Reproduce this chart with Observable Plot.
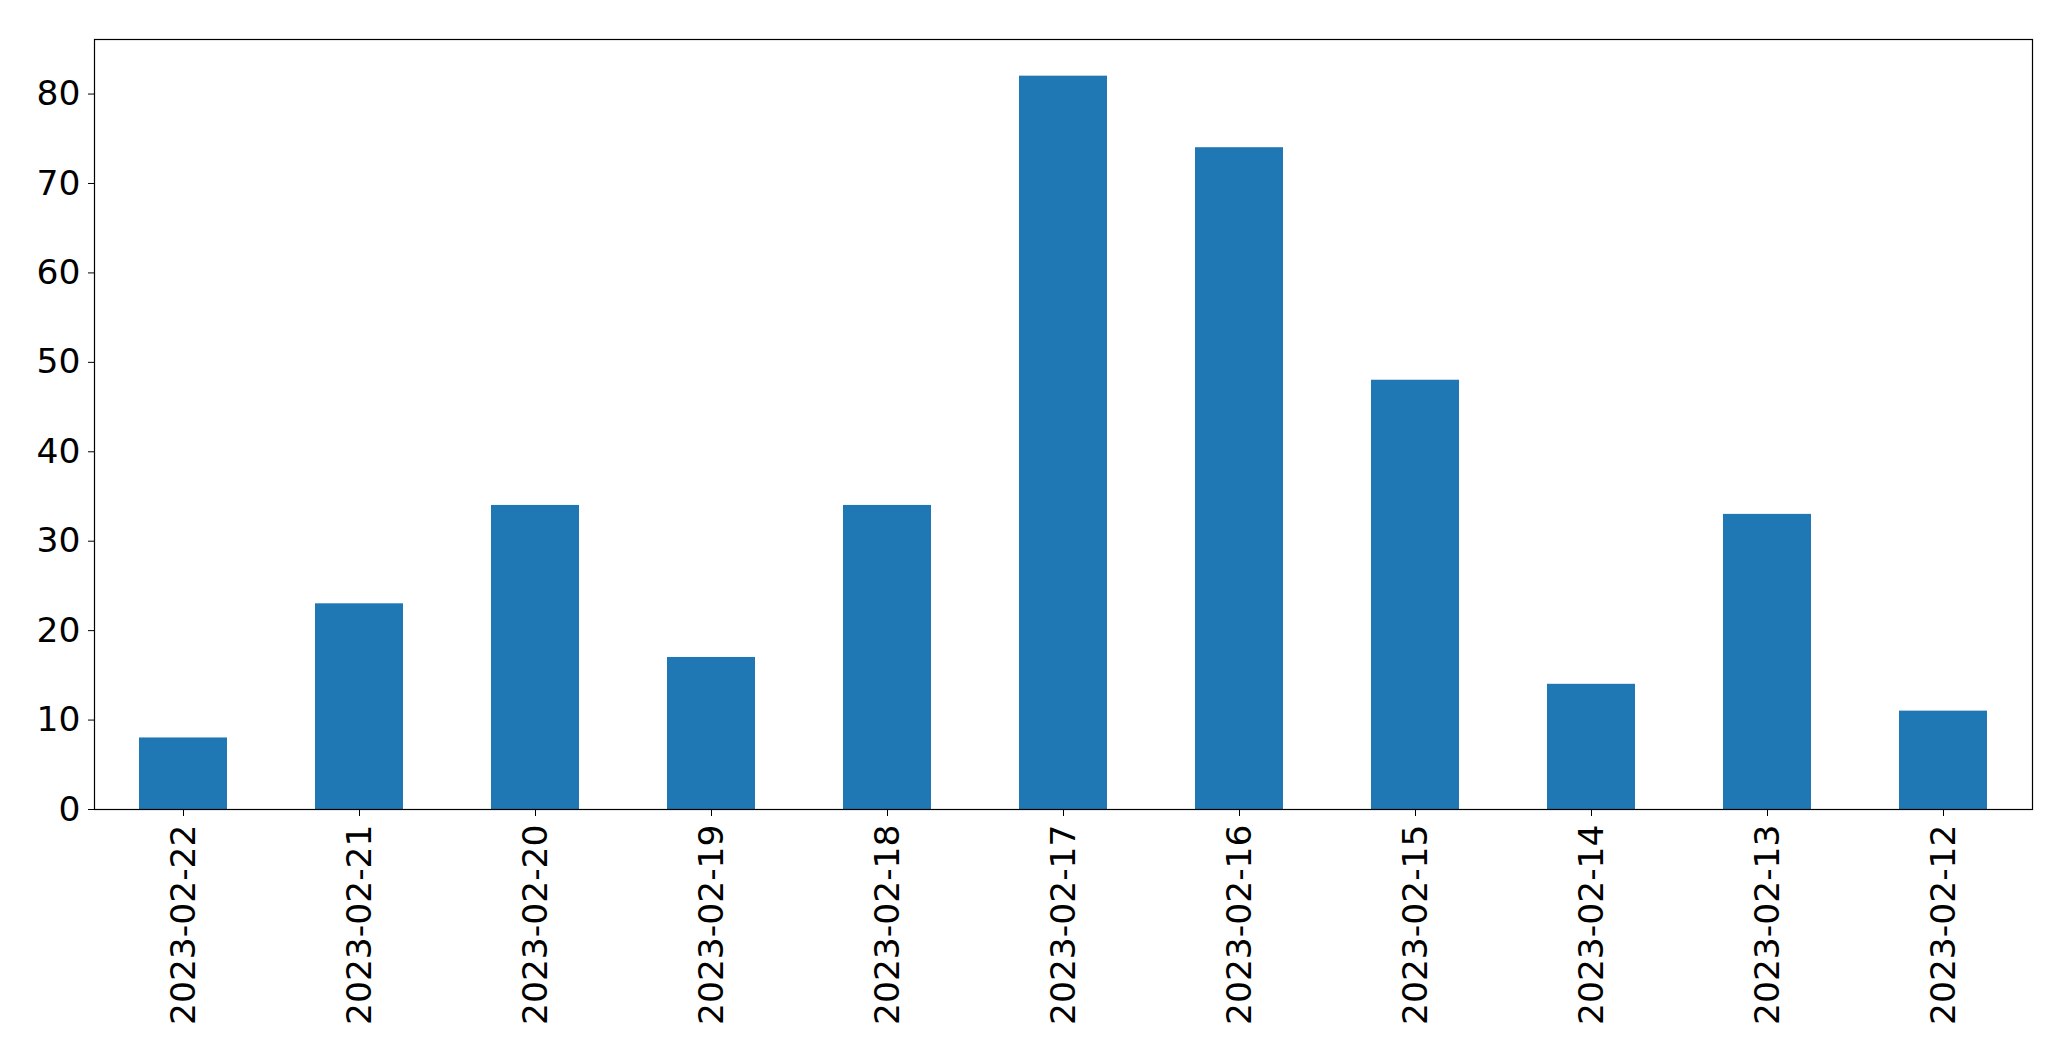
<!DOCTYPE html>
<html>
<head>
<meta charset="utf-8">
<script src="https://cdn.jsdelivr.net/npm/d3@7"></script>
<script src="https://cdn.jsdelivr.net/npm/@observablehq/plot@0.6"></script>
<style>
  html, body { margin: 0; padding: 0; background: #fff; overflow: hidden; }
  #chart { width: 2071px; height: 1061px; }
  #chart svg { display: block; }
</style>
</head>
<body>
<div id="chart"></div>
<script>
const dates = ["2023-02-22","2023-02-21","2023-02-20","2023-02-19","2023-02-18","2023-02-17","2023-02-16","2023-02-15","2023-02-14","2023-02-13","2023-02-12"];
const counts = [8, 23, 34, 17, 34, 82, 74, 48, 14, 33, 11];
const yTicks = [0, 10, 20, 30, 40, 50, 60, 70, 80];

const data = dates.map((d, i) => ({date: d, count: counts[i]}));

const chart = Plot.plot({
  width: 2071,
  height: 1061,
  marginLeft: 94,
  marginTop: 39,
  marginRight: 39,
  marginBottom: 252,
  style: {fontFamily: "DejaVu Sans", fontSize: "34.5px", color: "#000", background: "#fff"},
  x: {domain: dates, paddingInner: 0.5, paddingOuter: 0.25, label: null},
  y: {domain: [0, 86.1], label: null},
  marks: [
    Plot.barY(data, {x: "date", y: "count", fill: "#1f77b4"}),
    Plot.frame({stroke: "#000", strokeWidth: 1.2}),
    Plot.axisY({ticks: yTicks, tickSize: 6, tickPadding: 8, tickFormat: d => String(d), label: null, stroke: "#000"}),
    Plot.axisX({tickSize: 7, tickPadding: 8, tickRotate: -90, label: null, stroke: "#000"})
  ]
});
document.getElementById("chart").appendChild(chart);
</script>
</body>
</html>
